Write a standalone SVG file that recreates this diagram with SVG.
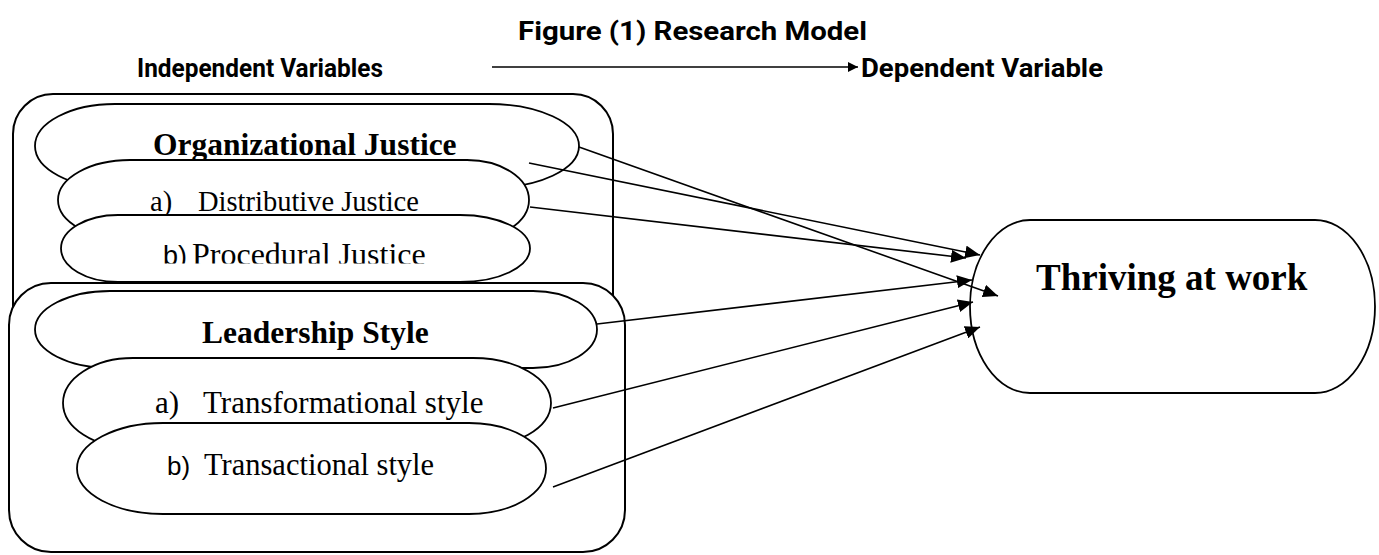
<svg xmlns="http://www.w3.org/2000/svg" width="1379" height="555" viewBox="0 0 1379 555">
<style>
.hdr{font-family:Roboto,"Liberation Sans",sans-serif;font-weight:bold;font-size:25px;fill:#000}
.box{fill:#fff;stroke:#000;stroke-width:2}
.shp{fill:#fff;stroke:#000;stroke-width:1.8}
.tb{font-family:"Liberation Serif","Times New Roman",serif;font-weight:bold;fill:#000}
.tr{font-family:"Liberation Serif","Times New Roman",serif;fill:#000}
.sn{font-family:"Liberation Sans",Arial,sans-serif}
.con{stroke:#000;stroke-width:1.6;fill:none}
</style>
<defs>
<marker id="ah" markerUnits="userSpaceOnUse" markerWidth="16" markerHeight="13" refX="15" refY="6.5" orient="auto">
<path d="M0,0 L15,6.5 L0,13 Z" fill="#000"/>
</marker>
<marker id="ahs" markerUnits="userSpaceOnUse" markerWidth="11" markerHeight="10" refX="10" refY="5" orient="auto">
<path d="M0,0 L10,5 L0,10 Z" fill="#000"/>
</marker>
<clipPath id="clipProc"><rect x="50" y="212" width="485" height="51.5"/></clipPath>
</defs>

<g id="header">
<text class="hdr" x="518" y="40" textLength="349" lengthAdjust="spacingAndGlyphs">Figure (1) Research Model</text>
<text class="hdr" x="137" y="77" textLength="246" lengthAdjust="spacingAndGlyphs">Independent Variables</text>
<text class="hdr" x="861" y="77" textLength="242" lengthAdjust="spacingAndGlyphs">Dependent Variable</text>
</g>

<g id="group-justice">
<rect class="box" x="13" y="94" width="600" height="320" rx="40" ry="40"/>
</g>
<g id="node-org-justice">
<path class="shp" d="M115,104 H489 A90 42 0 0 1 579,146 A90 42 0 0 1 489,188 H115 A80 42 0 0 1 35,146 A80 42 0 0 1 115,104 Z"/>
<text class="tb" x="153" y="155" font-size="31.5">Organizational Justice</text>
</g>
<g id="node-distributive">
<path class="shp" d="M130,160 H467 A62 40 0 0 1 529,200 A62 40 0 0 1 467,240 H130 A72 40 0 0 1 58,200 A72 40 0 0 1 130,160 Z"/>
<text class="tr" y="211" font-size="28.5"><tspan x="150">a)</tspan><tspan x="198">Distributive Justice</tspan></text>
</g>
<g id="node-procedural">
<path class="shp" d="M118,215 H460 A70 33.5 0 0 1 530,248.5 A70 33.5 0 0 1 460,282 H118 A57 33.5 0 0 1 61,248.5 A57 33.5 0 0 1 118,215 Z"/>
<g clip-path="url(#clipProc)">
<text class="tr" y="265" font-size="32"><tspan class="sn" x="163" font-size="27">b)</tspan><tspan x="192">Procedural Justice</tspan></text>
</g>
</g>

<g id="group-leadership">
<rect class="box" x="9" y="283" width="616" height="269" rx="42" ry="42"/>
</g>
<g id="node-leadership">
<path class="shp" d="M110,291 H533 A64 38.5 0 0 1 597,329.5 A64 38.5 0 0 1 533,368 H110 A75 38.5 0 0 1 35,329.5 A75 38.5 0 0 1 110,291 Z"/>
<text class="tb" x="202" y="343" font-size="31.5">Leadership Style</text>
</g>
<g id="node-transformational">
<path class="shp" d="M133,358 H473 A78 45 0 0 1 551,403 A78 45 0 0 1 473,448 H133 A70 45 0 0 1 63,403 A70 45 0 0 1 133,358 Z"/>
<text class="tr" y="413" font-size="31"><tspan x="155">a)</tspan><tspan x="203">Transformational style</tspan></text>
</g>
<g id="node-transactional">
<path class="shp" d="M163,423 H469 A77 45.5 0 0 1 546,468.5 A77 45.5 0 0 1 469,514 H163 A86 45.5 0 0 1 77,468.5 A86 45.5 0 0 1 163,423 Z"/>
<text class="tr" y="475" font-size="30.5"><tspan class="sn" x="167" font-size="26">b)</tspan><tspan x="204">Transactional style</tspan></text>
</g>

<g id="node-thriving">
<rect class="shp" x="970" y="220" width="405" height="173" rx="60" ry="86.5"/>
<text class="tb" x="1036" y="290" font-size="37">Thriving at work</text>
</g>

<g id="connectors">
<line class="con" x1="492" y1="67" x2="858" y2="67" marker-end="url(#ahs)"/>
<line class="con" x1="579" y1="147" x2="998" y2="296" marker-end="url(#ah)"/>
<line class="con" x1="529" y1="163" x2="980" y2="255" marker-end="url(#ah)"/>
<line class="con" x1="530" y1="207" x2="966" y2="258" marker-end="url(#ah)"/>
<line class="con" x1="597" y1="324" x2="972" y2="280" marker-end="url(#ah)"/>
<line class="con" x1="553" y1="408" x2="973" y2="302" marker-end="url(#ah)"/>
<line class="con" x1="553" y1="487" x2="980" y2="327" marker-end="url(#ah)"/>
</g>
</svg>
